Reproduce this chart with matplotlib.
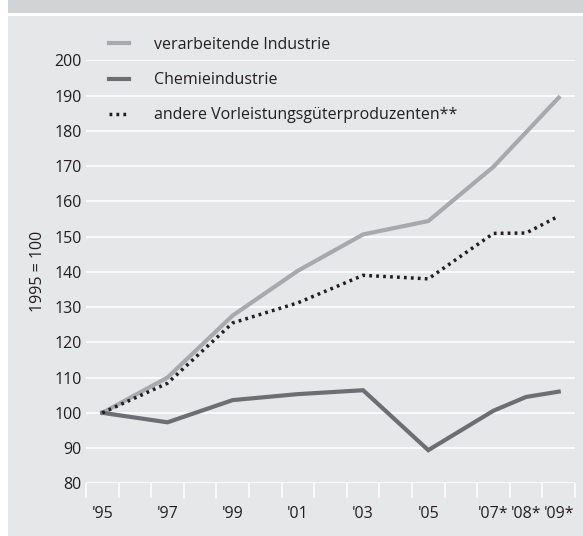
import numpy as np
import matplotlib
matplotlib.use("Agg")
import matplotlib.pyplot as plt
from matplotlib.lines import Line2D
from matplotlib.patches import Rectangle

plt.rcParams["font.family"] = ["Open Sans", "DejaVu Sans"]

# Data (index, 1995 = 100)
years = [1995, 1997, 1999, 2001, 2003, 2005, 2007, 2008, 2009]
tick_labels = ["'95", "'97", "'99", "'01", "'03", "'05", "'07*", "'08*", "'09*"]
verarbeitende = [100, 110, 127.6, 140.3, 150.6, 154.4, 169.8, 179.6, 189.4]
chemie = [100, 97.3, 103.6, 105.3, 106.4, 89.4, 100.6, 104.5, 106.0]
andere = [100, 108.4, 125.5, 131.2, 139.0, 138.0, 150.9, 151.0, 155.8]

labels = ["verarbeitende Industrie", "Chemieindustrie",
          "andere Vorleistungsgüterproduzenten**"]

W, H = 583, 536
fs = 11.5
fig = plt.figure(figsize=(W / 100, H / 100), dpi=100)
fig.patch.set_facecolor("white")

panel = "#e6e7e8"
band = "#d1d3d4"
txt = "#231f20"
fig.patches.append(Rectangle((8 / W, 0), 1, (H - 16) / H, transform=fig.transFigure,
                             facecolor=panel, edgecolor="none", zorder=-10))
fig.patches.append(Rectangle((8 / W, (H - 13) / H), 1, 13 / H, transform=fig.transFigure,
                             facecolor=band, edgecolor="none", zorder=-10))

ax = fig.add_axes([86 / W, (H - 483.3) / H, 489 / W, 423 / H])
ax.set_facecolor(panel)
ax.patch.set_alpha(0)

c_light = "#a7a9ac"
c_dark = "#6d6e71"
ax.plot(years, verarbeitende, color=c_light, lw=3, solid_joinstyle="miter", zorder=3)
ax.plot(years, chemie, color=c_dark, lw=3, solid_joinstyle="miter", zorder=3)
ax.plot(years, andere, color=txt, lw=2.5, linestyle=(0, (0.8, 1.2)), zorder=4)

ax.set_xlim(1994.5, 2009.5)
ax.set_ylim(80, 200)
ax.set_yticks(np.arange(80, 201, 10))
ax.grid(axis="y", color="white", lw=1.2)
ax.set_axisbelow(True)
for s in ax.spines.values():
    s.set_visible(False)

ax.set_xticks(years)
ax.set_xticklabels(tick_labels)
ax.set_xticks(np.arange(1994.5, 2009.6, 1), minor=True)
ax.tick_params(axis="x", which="major", length=0, pad=16, labelsize=fs, labelcolor=txt)
ax.tick_params(axis="x", which="minor", length=11, width=1.1, color="white", direction="out")
ax.tick_params(axis="y", length=0, pad=3, labelsize=fs, labelcolor=txt)
ax.set_ylabel("1995 = 100", fontsize=fs, color=txt, labelpad=6)

handles = [Line2D([], [], color=c_light, lw=3),
           Line2D([], [], color=c_dark, lw=3),
           Line2D([], [], color=txt, lw=2.5, linestyle=(0, (0.8, 1.2)))]
fig.legend(handles, labels, loc="upper left", bbox_to_anchor=(109 / W, (H - 37) / H),
           frameon=False, fontsize=fs, handlelength=1.25, handletextpad=1.55,
           labelspacing=1.2, borderpad=0, borderaxespad=0, labelcolor=txt)

fig.savefig("out.png", dpi=100)
